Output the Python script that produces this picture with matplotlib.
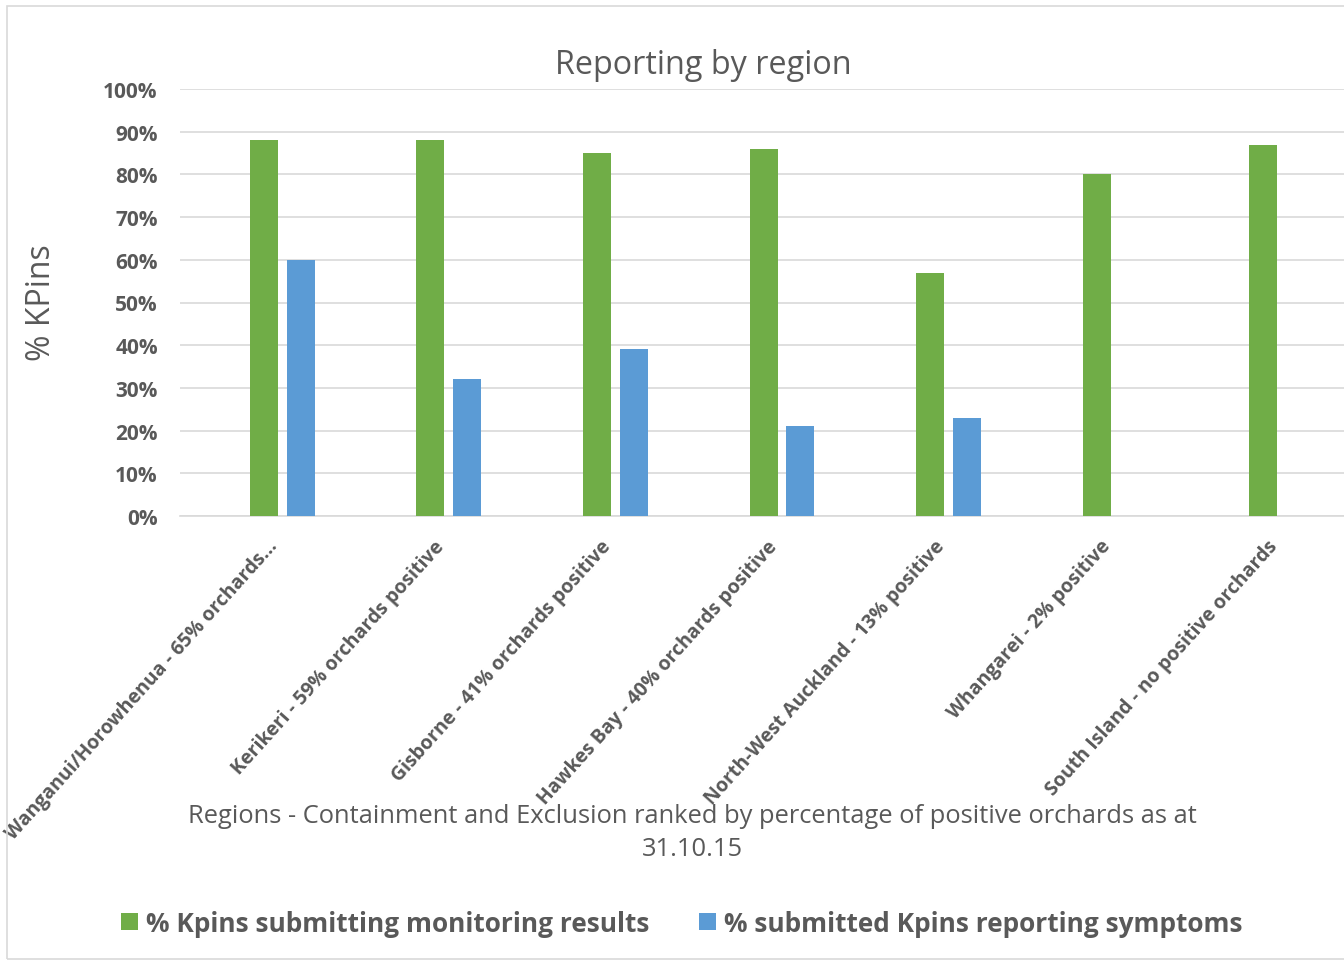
import matplotlib
matplotlib.use("Agg")
import matplotlib.pyplot as plt
import numpy as np
from matplotlib.patches import Rectangle

plt.rcParams['font.family'] = ['Open Sans', 'DejaVu Sans']

regions = [
    "Wanganui/Horowhenua - 65% orchards...",
    "Kerikeri - 59% orchards positive",
    "Gisborne - 41% orchards positive",
    "Hawkes Bay - 40% orchards positive",
    "North-West Auckland - 13% positive",
    "Whangarei - 2% positive",
    "South Island - no positive orchards",
]
submitting = [88, 88, 85, 86, 57, 80, 87]
symptoms = [60, 32, 39, 21, 23, np.nan, np.nan]
series_names = ["% Kpins submitting monitoring results",
                "% submitted Kpins reporting symptoms"]
yticks = [0, 10, 20, 30, 40, 50, 60, 70, 80, 90, 100]

green = "#70AD47"
blue = "#5B9BD5"
txt = "#595959"
grid = "#D9D9D9"

fig = plt.figure(figsize=(13.44, 9.62), dpi=100)
fig.patches.append(Rectangle((7 / 1344, 2 / 962), 1.0, 953 / 962, transform=fig.transFigure,
                             fill=False, edgecolor=grid, linewidth=1.2))

# plot area: 180px -> beyond right edge, 0% at y=517, 100% at y=90
ax = fig.add_axes([180 / 1344, 1 - 517 / 962, 1204 / 1344, 427 / 962])
x = np.arange(len(regions))
w = 0.168
off = 0.111
ax.bar(x - off, submitting, w, color=green, label=series_names[0], zorder=3)
ax.bar(x + off, symptoms, w, color=blue, label=series_names[1], zorder=3)

ax.set_xlim(-0.614, len(regions) - 0.386)
ax.set_ylim(0, 100)
ax.set_yticks(yticks)
ax.set_yticklabels([f"{v}%" for v in yticks], fontsize=15, fontweight='bold', color=txt)
ax.yaxis.grid(True, color=grid, linewidth=1.2, zorder=0)
ax.tick_params(axis='both', length=0)
ax.tick_params(axis='y', pad=16)
for s in ['top', 'right', 'left']:
    ax.spines[s].set_visible(False)
ax.spines['bottom'].set_color(grid)
ax.spines['bottom'].set_linewidth(1.2)

ax.set_xticks(x)
ax.set_xticklabels(regions, rotation=48, ha='right', va='bottom', rotation_mode='anchor',
                   fontsize=14, fontweight='bold', color=txt)
ax.tick_params(axis='x', pad=24)

fig.text(703 / 1344, 1 - 65 / 962, "Reporting by region", ha='center', va='center',
         fontsize=23.3, color=txt)
fig.text(41 / 1344, 1 - 303 / 962, "% KPins", ha='center', va='center', rotation=90,
         fontsize=23, color=txt)
fig.text(692 / 1344, 1 - 833 / 962,
         "Regions - Containment and Exclusion ranked by percentage of positive orchards as at\n31.10.15",
         ha='center', va='center', fontsize=18.4, color=txt, linespacing=1.38)

leg = fig.legend(loc='center', bbox_to_anchor=(682 / 1344, 1 - 924 / 962), ncol=2, frameon=False,
                 prop={'size': 18.9, 'weight': 'bold'}, handlelength=0.65, handleheight=0.65,
                 handletextpad=0.3, columnspacing=1.9)
for t in leg.get_texts():
    t.set_color(txt)

fig.savefig("out.png", dpi=100)
